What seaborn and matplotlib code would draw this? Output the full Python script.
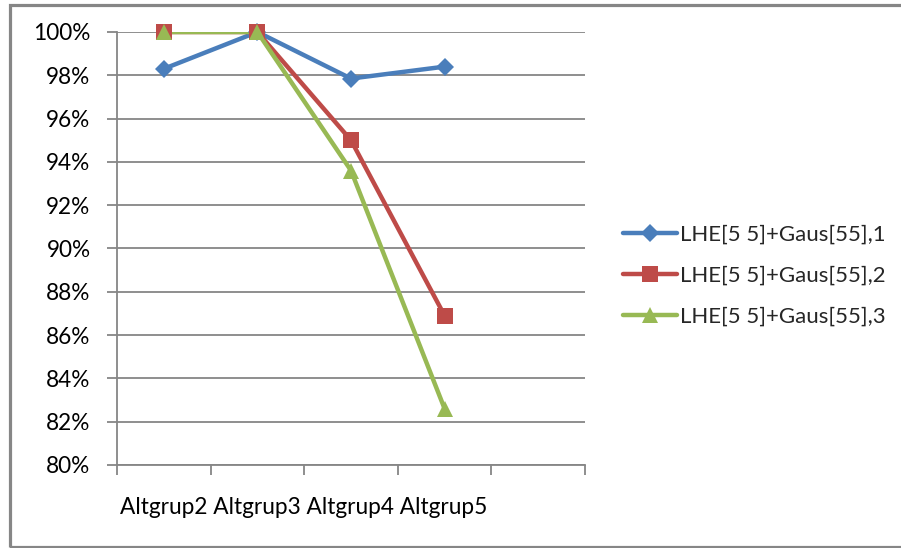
import matplotlib
matplotlib.use("Agg")
import matplotlib.pyplot as plt
from matplotlib.lines import Line2D
import matplotlib.patches as mpatches
import pandas as pd
import seaborn as sns

# Category names and accuracy values (percent) for each configuration
categories = ["Altgrup2", "Altgrup3", "Altgrup4", "Altgrup5"]
series_names = ["LHE[5 5]+Gaus[55],1", "LHE[5 5]+Gaus[55],2", "LHE[5 5]+Gaus[55],3"]
values_1 = [98.3, 100.0, 97.85, 98.4]
values_2 = [100.0, 100.0, 95.0, 86.9]
values_3 = [100.0, 100.0, 93.6, 82.6]
y_ticks = [80, 82, 84, 86, 88, 90, 92, 94, 96, 98, 100]

colors = ["#4A7EBB", "#BE4B48", "#98B954"]
markers = ["D", "s", "^"]
marker_sizes = [9, 12, 12]

rows = []
for name, vals in zip(series_names, [values_1, values_2, values_3]):
    for i, v in enumerate(vals):
        rows.append({"pos": i, "category": categories[i], "series": name, "value": v})
df = pd.DataFrame(rows)

sns.set_theme(style="white")
plt.rcParams["font.family"] = ["Lato", "DejaVu Sans"]

fig = plt.figure(figsize=(9.01, 5.48), dpi=100)
ax = fig.add_axes([117 / 901, 1 - 465 / 548, (585 - 117) / 901, (465 - 32) / 548])

grid_color = "#868686"

for name, col, mk, ms in zip(series_names, colors, markers, marker_sizes):
    sub = df[df["series"] == name]
    sns.lineplot(data=sub, x="pos", y="value", ax=ax, color=col, lw=3.2,
                 sort=False, legend=False, zorder=3)
    sns.lineplot(data=sub, x="pos", y="value", ax=ax, color=col, lw=0,
                 marker=mk, markersize=ms, markeredgewidth=0, sort=False,
                 legend=False, zorder=4, clip_on=False)

ax.set_xlim(-0.5, 4.5)
ax.set_ylim(80, 100)
ax.set_yticks(y_ticks)
ax.set_yticklabels([f"{t}%" for t in y_ticks])
ax.set_xticks([i - 0.5 for i in range(6)])
ax.set_xticklabels([])
ax.set_xlabel("")
ax.set_ylabel("")

ax.yaxis.grid(True, color=grid_color, lw=1.3)
ax.xaxis.grid(False)
ax.set_axisbelow(True)
for side in ["top", "right"]:
    ax.spines[side].set_visible(False)
for side in ["left", "bottom"]:
    ax.spines[side].set_color(grid_color)
    ax.spines[side].set_linewidth(1.3)

ax.tick_params(axis="y", which="major", left=True, length=7, width=1.3,
               color=grid_color, labelsize=16.3, labelcolor="#000000", pad=12)
ax.tick_params(axis="x", which="major", bottom=True, length=7, width=1.3,
               color=grid_color)

# Category labels run together along the bottom
fig.text(120 / 901, 1 - 507 / 548, " ".join(categories), fontsize=16.3,
         ha="left", va="center", color="#000000")

handles = [Line2D([0], [0], color=c, lw=3.2, marker=m, markersize=s,
                  markeredgewidth=0)
           for c, m, s in zip(colors, markers, marker_sizes)]
fig.legend(handles, series_names, loc="center left",
           bbox_to_anchor=(614 / 901, 1 - 276 / 548), frameon=False,
           fontsize=16, handlelength=2.45, handletextpad=0.1,
           labelspacing=0.95, borderaxespad=0)

# Outer chart border (right edge runs off the canvas)
fig.patches.append(mpatches.Rectangle((9.5 / 901, 1 - 546.5 / 548), 1.0,
                                      (546.5 - 5) / 548, transform=fig.transFigure,
                                      fill=False, edgecolor=grid_color, lw=2.3))

fig.savefig("out.png", dpi=100)
